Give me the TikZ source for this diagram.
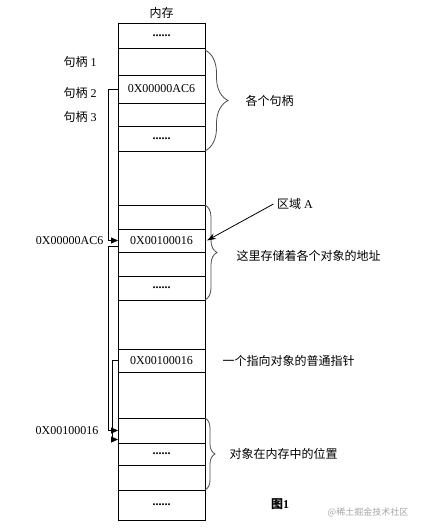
\documentclass[tikz,border=0pt]{standalone}
\usepackage{fontspec}
\setmainfont{Liberation Serif}
\newfontfamily\cjk{Noto Sans CJK SC}
\usetikzlibrary{positioning, arrows.meta, decorations.pathreplacing}

\tikzset{
  cell/.style={draw, minimum width=87pt, outer sep=0pt, inner sep=0pt},
  lbl/.style={font=\fontsize{12}{14}\selectfont\cjk},
  ptr/.style={-{Triangle[length=7pt,width=6pt]}},
  brc/.style={decorate, decoration={brace, amplitude=#1}, draw=black!70, line width=0.8pt},
}
\newcommand{\celldots}{\textbf{......}}

\begin{document}
\begin{tikzpicture}[x=1pt, y=-1pt, line width=0.8pt, font=\fontsize{12}{14}\selectfont]
    \useasboundingbox (0,0) rectangle (421,532);

    % memory column
    \node[cell, minimum height=25pt] (m1) at (161.5,35.5) {\celldots};
    \node[cell, minimum height=27pt, below=0pt of m1] (m2) {};
    \node[cell, minimum height=28pt, below=0pt of m2] (m3) {0X00000AC6};
    \node[cell, minimum height=23pt, below=0pt of m3] (m4) {};
    \node[cell, minimum height=25pt, below=0pt of m4] (m5) {\celldots};
    \node[cell, minimum height=54pt, below=0pt of m5] (g1) {};
    \node[cell, minimum height=24pt, below=0pt of g1] (m6) {};
    \node[cell, minimum height=23pt, below=0pt of m6] (m7) {0X00100016};
    \node[cell, minimum height=24pt, below=0pt of m7] (m8) {};
    \node[cell, minimum height=24pt, below=0pt of m8] (m9) {\celldots};
    \node[cell, minimum height=49pt, below=0pt of m9] (g2) {};
    \node[cell, minimum height=23pt, below=0pt of g2] (m10) {0X00100016};
    \node[cell, minimum height=46pt, below=0pt of m10] (g3) {};
    \node[cell, minimum height=25pt, below=0pt of g3] (m11) {};
    \node[cell, minimum height=22pt, below=0pt of m11] (m12) {\celldots};
    \node[cell, minimum height=25pt, below=0pt of m12] (m13) {};
    \node[cell, minimum height=30pt, below=0pt of m13] (m14) {\celldots};

    \node[lbl, above=1pt of m1] (title) {内存};

    % handles
    \node (h1) at (80,62) {{\cjk 句柄} 1};
    \node (h2) at (80,93) {{\cjk 句柄} 2};
    \node (h3) at (80,117) {{\cjk 句柄} 3};

    % pointers
    \draw[ptr] (m3.west) -- ++(-10,0) |- node[pos=0.5, left=1pt] {0X00000AC6} (m7.west);
    \draw[ptr] ([yshift=-6pt]m7.west) -- ++(-10,0) |- node[pos=0.5, left=6pt] {0X00100016} (m11.west);
    \draw[ptr] (m10.west) -- ++(-6,0) |- ([yshift=-9pt]m11.west);

    % braces
    \draw[brc=23pt] ([yshift=-2pt]m2.north east) -- node[right=37pt, lbl] {各个句柄} (m5.south east);
    \draw[brc=12pt] (m6.north east) -- node[right=28pt, lbl, yshift=-3pt] {这里存储着各个对象的地址} (m9.south east);
    \draw[brc=10pt] (m11.north east) -- node[right=21pt, lbl] {对象在内存中的位置} (m13.south east);

    \node (areaA) at (295,204) {{\cjk 区域} A};
    \draw[-{Stealth[length=9pt,width=6pt]}] (areaA.west) -- ([xshift=2pt]m7.east);

    \node[lbl, right=14pt of m10] (note) {一个指向对象的普通指针};

    \node (caption) at (280,504) {\bfseries{\cjk 图}1};
    \node[font=\fontsize{9}{10}\selectfont\cjk, text=black!35] (mark) at (368,512) {@稀土掘金技术社区};
\end{tikzpicture}
\end{document}
